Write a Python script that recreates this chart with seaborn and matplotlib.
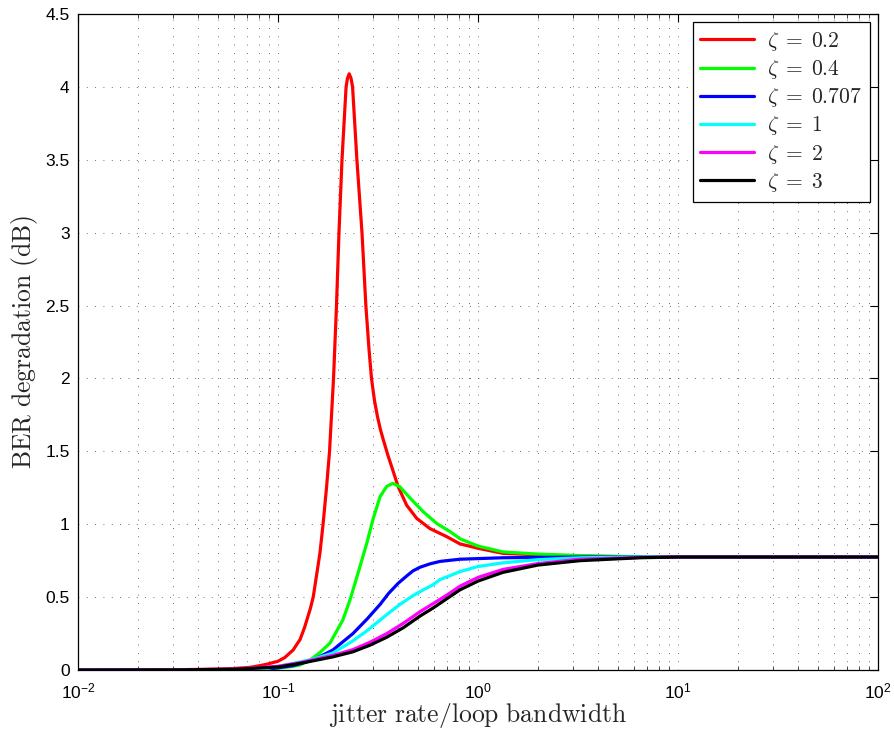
import numpy as np
import pandas as pd
import matplotlib
matplotlib.use("Agg")
import matplotlib.pyplot as plt
import matplotlib.ticker as mticker
import seaborn as sns

# Damping factors and their curves (jitter rate / loop bandwidth vs. BER degradation in dB)
zeta_labels = [r"$\zeta\;=\;0.2$", r"$\zeta\;=\;0.4$", r"$\zeta\;=\;0.707$",
               r"$\zeta\;=\;1$", r"$\zeta\;=\;2$", r"$\zeta\;=\;3$"]
line_colors = ["#ff0000", "#00ff00", "#0000ff", "#00ffff", "#ff00ff", "#000000"]

red_x = [0.01, 0.0316, 0.05, 0.0596, 0.0724, 0.0813, 0.0881, 0.1, 0.108, 0.119,
         0.129, 0.136, 0.145, 0.150, 0.162, 0.168, 0.1748, 0.1810, 0.1895, 0.1961,
         0.2018, 0.2089, 0.219, 0.2226, 0.227, 0.2317, 0.236, 0.248, 0.263, 0.275,
         0.2851, 0.2934, 0.3036, 0.3141, 0.3251, 0.336, 0.355, 0.370, 0.399, 0.440,
         0.494, 0.575, 0.697, 0.813, 1.0, 1.334, 1.995, 3.236, 6.46, 10, 100]
red_y = [0, 0.002, 0.006, 0.01, 0.018, 0.03, 0.04, 0.06, 0.085, 0.137,
         0.21, 0.295, 0.42, 0.5, 0.8, 1.0, 1.25, 1.5, 2.0, 2.5,
         3.0, 3.5, 4.0, 4.06, 4.09, 4.06, 4.0, 3.5, 3.0, 2.5,
         2.2, 2.0, 1.85, 1.74, 1.65, 1.58, 1.47, 1.395, 1.257, 1.13,
         1.04, 0.97, 0.915, 0.865, 0.835, 0.80, 0.79, 0.78, 0.776, 0.775, 0.775]

green_x = [0.01, 0.0316, 0.0596, 0.1, 0.119, 0.129, 0.145, 0.162, 0.182, 0.211,
           0.229, 0.252, 0.278, 0.2995, 0.324, 0.350, 0.375, 0.407, 0.457, 0.533,
           0.622, 0.724, 0.813, 1.0, 1.334, 1.995, 3.236, 6.46, 10, 100]
green_y = [0, 0.001, 0.004, 0.012, 0.025, 0.035, 0.069, 0.12, 0.185, 0.343,
           0.48, 0.67, 0.87, 1.04, 1.19, 1.26, 1.28, 1.257, 1.18, 1.085,
           1.005, 0.95, 0.9, 0.85, 0.81, 0.795, 0.785, 0.777, 0.775, 0.775]

blue_x = [0.01, 0.0316, 0.0596, 0.0881, 0.119, 0.150, 0.188, 0.237, 0.279, 0.324,
          0.357, 0.399, 0.440, 0.473, 0.513, 0.575, 0.646, 0.813, 1.334, 3.236,
          10, 100]
blue_y = [0, 0.0, 0.0, 0.005, 0.03, 0.069, 0.137, 0.25, 0.35, 0.45,
          0.525, 0.595, 0.645, 0.68, 0.705, 0.728, 0.745, 0.76, 0.77, 0.775,
          0.775, 0.775]

cyan_x = [0.01, 0.0316, 0.0596, 0.0881, 0.119, 0.150, 0.188, 0.237, 0.279, 0.350,
          0.407, 0.473, 0.533, 0.596, 0.646, 0.813, 1.0, 1.334, 1.995, 3.236,
          6.46, 10, 100]
cyan_y = [0, 0.0, 0.0, 0.01, 0.045, 0.075, 0.116, 0.2, 0.27, 0.38,
          0.45, 0.51, 0.55, 0.585, 0.62, 0.675, 0.71, 0.735, 0.757, 0.77,
          0.775, 0.775, 0.775]

magenta_x = [0.01, 0.0316, 0.0596, 0.1, 0.129, 0.188, 0.237, 0.288, 0.350, 0.423,
             0.513, 0.596, 0.700, 0.813, 1.0, 1.334, 1.995, 3.236, 6.46, 10, 100]
magenta_y = [0, 0.001, 0.006, 0.025, 0.05, 0.1, 0.14, 0.19, 0.25, 0.32,
             0.40, 0.455, 0.515, 0.575, 0.635, 0.69, 0.73, 0.76, 0.772, 0.775, 0.775]

black_x = [0.01, 0.0316, 0.0596, 0.1, 0.129, 0.188, 0.237, 0.288, 0.350, 0.423,
           0.513, 0.596, 0.700, 0.813, 1.0, 1.334, 1.995, 3.236, 6.46, 10, 100]
black_y = [0, 0.001, 0.005, 0.02, 0.045, 0.09, 0.125, 0.17, 0.225, 0.29,
           0.37, 0.425, 0.49, 0.55, 0.61, 0.67, 0.72, 0.75, 0.77, 0.775, 0.775]

x_tick_values = [0.01, 0.1, 1, 10, 100]
x_tick_labels = [r"$10^{-2}$", r"$10^{-1}$", r"$10^{0}$", r"$10^{1}$", r"$10^{2}$"]
y_tick_values = [0, 0.5, 1, 1.5, 2, 2.5, 3, 3.5, 4, 4.5]
y_tick_labels = ["0", "0.5", "1", "1.5", "2", "2.5", "3", "3.5", "4", "4.5"]

series = [(red_x, red_y), (green_x, green_y), (blue_x, blue_y),
          (cyan_x, cyan_y), (magenta_x, magenta_y), (black_x, black_y)]
frames = []
for label, (xs, ys) in zip(zeta_labels, series):
    frames.append(pd.DataFrame({"rate": xs, "ber": ys, "zeta": label}))
df = pd.concat(frames, ignore_index=True)

sns.set_style("white")
plt.rcParams["font.family"] = ["Liberation Sans", "DejaVu Sans"]
plt.rcParams["mathtext.fontset"] = "custom"
plt.rcParams["mathtext.rm"] = "Liberation Sans"
plt.rcParams["mathtext.it"] = "Liberation Sans:italic"
plt.rcParams["mathtext.bf"] = "Liberation Sans:bold"
plt.rcParams["axes.unicode_minus"] = False

fig = plt.figure(figsize=(8.95, 7.32), dpi=100)
ax = fig.add_axes([78 / 895, 62 / 732, 800 / 895, 656 / 732])

sns.lineplot(data=df, x="rate", y="ber", hue="zeta", hue_order=zeta_labels,
             palette=line_colors, estimator=None, sort=False, linewidth=2.3,
             legend=False, ax=ax)

ax.set_xscale("log")
ax.set_xlim(0.01, 100)
ax.set_ylim(0, 4.5)
ax.set_xticks(x_tick_values)
ax.set_xticklabels(x_tick_labels)
ax.xaxis.set_minor_locator(mticker.LogLocator(base=10, subs=np.arange(2, 10), numticks=20))
ax.xaxis.set_minor_formatter(mticker.NullFormatter())
ax.set_yticks(y_tick_values)
ax.set_yticklabels(y_tick_labels)

ax.tick_params(axis="both", which="major", direction="in", length=6, width=0.8,
               top=True, right=True, labelsize=12.5, colors="black")
ax.tick_params(axis="x", which="major", pad=8)
ax.tick_params(axis="y", which="major", pad=6)
ax.tick_params(axis="x", which="minor", direction="in", length=3, width=0.6,
               top=True, bottom=True)

grid_style = dict(color="0.25", linestyle=(0, (1, 9)), linewidth=0.6)
ax.grid(True, which="major", axis="both", **grid_style)
ax.grid(True, which="minor", axis="x", **grid_style)
ax.set_axisbelow(True)

for spine in ax.spines.values():
    spine.set_color("black")
    spine.set_linewidth(0.9)

ax.set_xlabel(r"$\mathrm{jitter\ rate/loop\ bandwidth}$", fontsize=18.5,
              math_fontfamily="cm", labelpad=0)
ax.set_ylabel(r"$\mathrm{BER\ degradation\ (dB)}$", fontsize=18.5,
              math_fontfamily="cm", labelpad=4)

leg = ax.legend(ax.lines[:len(zeta_labels)], zeta_labels, loc="upper right",
                fontsize=15.5, frameon=True, fancybox=False, edgecolor="black",
                framealpha=1, borderaxespad=0.38, handlelength=2.5,
                handletextpad=0.6, labelspacing=0.24, borderpad=0.36)
leg.get_frame().set_linewidth(0.9)
for t in leg.get_texts():
    t.set_math_fontfamily("cm")

fig.savefig("out.png", dpi=100, facecolor="white")
